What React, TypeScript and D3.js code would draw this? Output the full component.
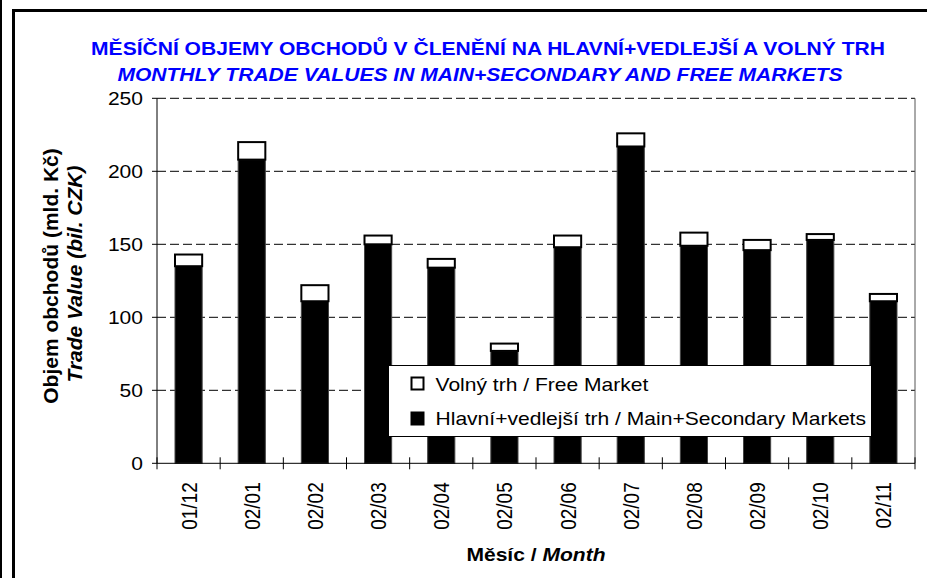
import * as d3 from "d3";
import { useEffect, useRef } from "react";

// months on the x axis
const months = [
  "01/12",
  "02/01",
  "02/02",
  "02/03",
  "02/04",
  "02/05",
  "02/06",
  "02/07",
  "02/08",
  "02/09",
  "02/10",
  "02/11",
];
// Hlavní+vedlejší trh / Main+Secondary Markets (bil. CZK)
const mainValues = [135, 208, 111, 150, 134, 77, 148, 217, 149, 146, 153, 111];
// Volný trh / Free Market (bil. CZK)
const freeValues = [8, 12, 11, 6, 6, 5, 8, 9, 9, 7, 4, 5];
const yTicks = [0, 50, 100, 150, 200, 250];

const titleCz = "MĚSÍČNÍ OBJEMY OBCHODŮ V ČLENĚNÍ NA HLAVNÍ+VEDLEJŠÍ A VOLNÝ TRH";
const titleEn = "MONTHLY TRADE VALUES IN MAIN+SECONDARY AND FREE MARKETS";
const legendLabels = [
  "Volný trh / Free Market",
  "Hlavní+vedlejší trh / Main+Secondary Markets",
];

const FONT = "'Liberation Sans', Arial, sans-serif";
// the source picture is a little wider than tall, so text is stretched too
const SX = 1.17;

export default function App() {
  const ref = useRef<SVGSVGElement>(null);

  useEffect(() => {
    const svg = d3.select(ref.current);
    svg.selectAll("*").remove();

    const width = 927;
    const height = 578;
    const margin = { top: 98.3, right: 12, bottom: 114.7, left: 157 };
    const innerW = width - margin.left - margin.right;
    const innerH = height - margin.top - margin.bottom;

    svg
      .append("rect")
      .attr("width", width)
      .attr("height", height)
      .attr("fill", "white");

    // outer frame
    svg
      .append("line")
      .attr("x1", 1)
      .attr("x2", 1)
      .attr("y1", 0)
      .attr("y2", height)
      .attr("stroke", "black")
      .attr("stroke-width", 2);
    svg
      .append("path")
      .attr("d", `M13.5 ${height} V10.5 H${width}`)
      .attr("fill", "none")
      .attr("stroke", "black")
      .attr("stroke-width", 3);

    // titles
    svg
      .append("text")
      .attr("transform", `translate(488,55) scale(${SX},1)`)
      .attr("text-anchor", "middle")
      .attr("font-family", FONT)
      .attr("font-size", 18)
      .attr("font-weight", "bold")
      .attr("fill", "#0000ff")
      .text(titleCz);
    svg
      .append("text")
      .attr("transform", `translate(480,81) scale(${SX},1)`)
      .attr("text-anchor", "middle")
      .attr("font-family", FONT)
      .attr("font-size", 18)
      .attr("font-weight", "bold")
      .attr("font-style", "italic")
      .attr("fill", "#0000ff")
      .text(titleEn);

    const g = svg
      .append("g")
      .attr("transform", `translate(${margin.left},${margin.top})`);

    const x = d3
      .scaleBand<string>()
      .domain(months)
      .range([0, innerW])
      .paddingInner(0.57)
      .paddingOuter(0.285);
    const y = d3.scaleLinear().domain([0, 250]).range([innerH, 0]);

    // dashed gridlines
    g.selectAll(".grid")
      .data(yTicks.filter((d) => d > 0))
      .enter()
      .append("line")
      .attr("x1", 0)
      .attr("x2", innerW)
      .attr("y1", (d) => y(d))
      .attr("y2", (d) => y(d))
      .attr("stroke", "black")
      .attr("stroke-width", 1)
      .attr("stroke-dasharray", "9,4");

    // right border of plot
    g.append("line")
      .attr("x1", innerW)
      .attr("x2", innerW)
      .attr("y1", 0)
      .attr("y2", innerH)
      .attr("stroke", "#555")
      .attr("stroke-width", 1);

    // stacked bars
    const stacked = d3
      .stack<number>()
      .keys(["main", "free"])
      .value((i, key) => (key === "main" ? mainValues[i] : freeValues[i]))(
      months.map((_, i) => i)
    );
    const fills = ["black", "white"];
    stacked.forEach((layer, li) => {
      g.selectAll(`.bar${li}`)
        .data(layer)
        .enter()
        .append("rect")
        .attr("x", (d) => x(months[d.data])!)
        .attr("y", (d) => y(d[1]))
        .attr("width", x.bandwidth())
        .attr("height", (d) => y(d[0]) - y(d[1]))
        .attr("fill", fills[li])
        .attr("stroke", li === 0 ? "#444" : "black")
        .attr("stroke-width", li === 0 ? 1 : 2);
    });

    // y axis
    g.append("line")
      .attr("x1", 0)
      .attr("x2", 0)
      .attr("y1", 0)
      .attr("y2", innerH)
      .attr("stroke", "black");
    g.selectAll(".ytick")
      .data(yTicks)
      .enter()
      .append("line")
      .attr("x1", -5)
      .attr("x2", 0)
      .attr("y1", (d) => y(d))
      .attr("y2", (d) => y(d))
      .attr("stroke", "black");
    g.selectAll(".ylabel")
      .data(yTicks)
      .enter()
      .append("text")
      .attr("transform", (d) => `translate(-14,${y(d)}) scale(${SX},1)`)
      .attr("dy", "0.36em")
      .attr("text-anchor", "end")
      .attr("font-family", FONT)
      .attr("font-size", 18)
      .text((d) => d);

    // x axis
    g.append("line")
      .attr("x1", 0)
      .attr("x2", innerW)
      .attr("y1", innerH)
      .attr("y2", innerH)
      .attr("stroke", "black");
    const step = x.step();
    g.selectAll(".xtick")
      .data(d3.range(months.length + 1))
      .enter()
      .append("line")
      .attr("x1", (d) => d * step)
      .attr("x2", (d) => d * step)
      .attr("y1", innerH - 6)
      .attr("y2", innerH + 6)
      .attr("stroke", "black");
    g.selectAll(".xlabel")
      .data(months)
      .enter()
      .append("text")
      .attr(
        "transform",
        (d) =>
          `translate(${x(d)! + x.bandwidth() / 2},${innerH + 19}) scale(${SX},1) rotate(-90)`
      )
      .attr("dy", "0.36em")
      .attr("text-anchor", "end")
      .attr("font-family", FONT)
      .attr("font-size", 19)
      .text((d) => d);

    // x axis title
    const xt = svg
      .append("text")
      .attr("transform", `translate(${margin.left + innerW / 2},561) scale(${SX},1)`)
      .attr("text-anchor", "middle")
      .attr("font-family", FONT)
      .attr("font-size", 18)
      .attr("font-weight", "bold");
    xt.append("tspan").text("Měsíc / ");
    xt.append("tspan").attr("font-style", "italic").text("Month");

    // y axis title
    svg
      .append("text")
      .attr("transform", "translate(58,276) rotate(-90)")
      .attr("text-anchor", "middle")
      .attr("font-family", FONT)
      .attr("font-size", 21)
      .attr("font-weight", "bold")
      .text("Objem obchodů (mld. Kč)");
    svg
      .append("text")
      .attr("transform", "translate(82,274) rotate(-90)")
      .attr("text-anchor", "middle")
      .attr("font-family", FONT)
      .attr("font-size", 21)
      .attr("font-weight", "bold")
      .attr("font-style", "italic")
      .text("Trade Value (bil. CZK)");

    // legend
    const lg = svg.append("g").attr("transform", "translate(388.5,365.5)");
    lg.append("rect")
      .attr("width", 483)
      .attr("height", 71)
      .attr("fill", "white")
      .attr("stroke", "black")
      .attr("stroke-width", 1);
    legendLabels.forEach((label, i) => {
      lg.append("rect")
        .attr("x", 23)
        .attr("y", 12 + i * 35)
        .attr("width", 12)
        .attr("height", 12)
        .attr("fill", i === 0 ? "white" : "black")
        .attr("stroke", "black")
        .attr("stroke-width", 2);
      lg.append("text")
        .attr("transform", `translate(47,${25 + i * 34}) scale(${SX},1)`)
        .attr("font-family", FONT)
        .attr("font-size", 18)
        .text(label);
    });
  }, []);

  return (
    <svg
      ref={ref}
      width={927}
      height={578}
      style={{ display: "block", position: "absolute", left: 0, top: 0 }}
    ></svg>
  );
}
